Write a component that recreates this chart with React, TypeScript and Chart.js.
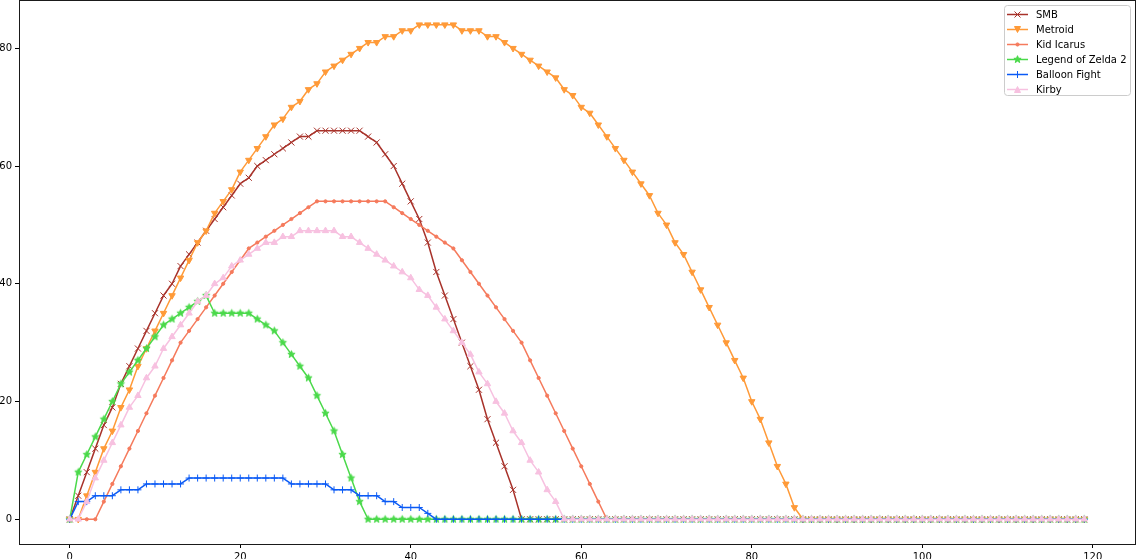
import React, { useEffect, useRef } from 'react';
import { Chart, registerables } from 'chart.js';

Chart.register(...registerables);

// ---------- data ----------
const X_VALUES: number[] = Array.from({ length: 120 }, (_, i) => i);

const SERIES_NAMES = ['SMB', 'Metroid', 'Kid Icarus', 'Legend of Zelda 2', 'Balloon Fight', 'Kirby'];

const SMB = [
  0, 4, 8, 12, 16, 19, 23, 26, 29, 32,
  35, 38, 40, 43, 45, 47, 49, 51, 53, 55,
  57, 58, 60, 61, 62, 63, 64, 65, 65, 66,
  66, 66, 66, 66, 66, 65, 64, 62, 60, 57,
  54, 51, 47, 42, 38, 34, 30, 26, 22, 17,
  13, 9, 5, 0, 0, 0, 0, 0, 0, 0,
  0, 0, 0, 0, 0, 0, 0, 0, 0, 0,
  0, 0, 0, 0, 0, 0, 0, 0, 0, 0,
  0, 0, 0, 0, 0, 0, 0, 0, 0, 0,
  0, 0, 0, 0, 0, 0, 0, 0, 0, 0,
  0, 0, 0, 0, 0, 0, 0, 0, 0, 0,
  0, 0, 0, 0, 0, 0, 0, 0, 0, 0,
];

const METROID = [
  0, 0, 4, 8, 12, 15, 19, 22, 26, 29,
  32, 35, 38, 41, 44, 47, 49, 52, 54, 56,
  59, 61, 63, 65, 67, 68, 70, 71, 73, 74,
  76, 77, 78, 79, 80, 81, 81, 82, 82, 83,
  83, 84, 84, 84, 84, 84, 83, 83, 83, 82,
  82, 81, 80, 79, 78, 77, 76, 75, 73, 72,
  70, 69, 67, 65, 63, 61, 59, 57, 55, 52,
  50, 47, 45, 42, 39, 36, 33, 30, 27, 24,
  20, 17, 13, 9, 6, 2, 0, 0, 0, 0,
  0, 0, 0, 0, 0, 0, 0, 0, 0, 0,
  0, 0, 0, 0, 0, 0, 0, 0, 0, 0,
  0, 0, 0, 0, 0, 0, 0, 0, 0, 0,
];

const KID_ICARUS = [
  0, 0, 0, 0, 3, 6, 9, 12, 15, 18,
  21, 24, 27, 30, 32, 34, 36, 38, 40, 42,
  44, 46, 47, 48, 49, 50, 51, 52, 53, 54,
  54, 54, 54, 54, 54, 54, 54, 54, 53, 52,
  51, 50, 49, 48, 47, 46, 44, 42, 40, 38,
  36, 34, 32, 30, 27, 24, 21, 18, 15, 12,
  9, 6, 3, 0, 0, 0, 0, 0, 0, 0,
  0, 0, 0, 0, 0, 0, 0, 0, 0, 0,
  0, 0, 0, 0, 0, 0, 0, 0, 0, 0,
  0, 0, 0, 0, 0, 0, 0, 0, 0, 0,
  0, 0, 0, 0, 0, 0, 0, 0, 0, 0,
  0, 0, 0, 0, 0, 0, 0, 0, 0, 0,
];

const ZELDA2 = [
  0, 8, 11, 14, 17, 20, 23, 25, 27, 29,
  31, 33, 34, 35, 36, 37, 38, 35, 35, 35,
  35, 35, 34, 33, 32, 30, 28, 26, 24, 21,
  18, 15, 11, 7, 3, 0, 0, 0, 0, 0,
  0, 0, 0, 0, 0, 0, 0, 0, 0, 0,
  0, 0, 0, 0, 0, 0, 0, 0, 0, 0,
  0, 0, 0, 0, 0, 0, 0, 0, 0, 0,
  0, 0, 0, 0, 0, 0, 0, 0, 0, 0,
  0, 0, 0, 0, 0, 0, 0, 0, 0, 0,
  0, 0, 0, 0, 0, 0, 0, 0, 0, 0,
  0, 0, 0, 0, 0, 0, 0, 0, 0, 0,
  0, 0, 0, 0, 0, 0, 0, 0, 0, 0,
];

const BALLOON_FIGHT = [
  0, 3, 3, 4, 4, 4, 5, 5, 5, 6,
  6, 6, 6, 6, 7, 7, 7, 7, 7, 7,
  7, 7, 7, 7, 7, 7, 6, 6, 6, 6,
  6, 5, 5, 5, 4, 4, 4, 3, 3, 2,
  2, 2, 1, 0, 0, 0, 0, 0, 0, 0,
  0, 0, 0, 0, 0, 0, 0, 0, 0, 0,
  0, 0, 0, 0, 0, 0, 0, 0, 0, 0,
  0, 0, 0, 0, 0, 0, 0, 0, 0, 0,
  0, 0, 0, 0, 0, 0, 0, 0, 0, 0,
  0, 0, 0, 0, 0, 0, 0, 0, 0, 0,
  0, 0, 0, 0, 0, 0, 0, 0, 0, 0,
  0, 0, 0, 0, 0, 0, 0, 0, 0, 0,
];

const KIRBY = [
  0, 0, 3, 7, 10, 13, 16, 19, 21, 24,
  26, 29, 31, 33, 35, 37, 38, 40, 41, 43,
  44, 45, 46, 47, 47, 48, 48, 49, 49, 49,
  49, 49, 48, 48, 47, 46, 45, 44, 43, 42,
  41, 39, 38, 36, 34, 32, 30, 28, 25, 23,
  20, 18, 15, 13, 10, 8, 5, 3, 0, 0,
  0, 0, 0, 0, 0, 0, 0, 0, 0, 0,
  0, 0, 0, 0, 0, 0, 0, 0, 0, 0,
  0, 0, 0, 0, 0, 0, 0, 0, 0, 0,
  0, 0, 0, 0, 0, 0, 0, 0, 0, 0,
  0, 0, 0, 0, 0, 0, 0, 0, 0, 0,
  0, 0, 0, 0, 0, 0, 0, 0, 0, 0,
];

const X_TICKS = [0, 20, 40, 60, 80, 100, 120];
const Y_TICKS = [0, 20, 40, 60, 80];

// ---------- styles ----------
const COLORS = ['#a8322a', '#ff9a38', '#f57a5c', '#4ad94a', '#0a5af5', '#f7c1e0'];
const MARKERS = ['x', 'v', '.', '*', '+', '^'];
const FONT = 'DejaVu Sans';

function starPath(ctx: CanvasRenderingContext2D, cx: number, cy: number, R: number) {
  const r = R * 0.42;
  ctx.beginPath();
  for (let k = 0; k < 10; k++) {
    const a = -Math.PI / 2 + (k * Math.PI) / 5;
    const rr = k % 2 === 0 ? R : r;
    const px = cx + rr * Math.cos(a);
    const py = cy + rr * Math.sin(a);
    if (k === 0) ctx.moveTo(px, py);
    else ctx.lineTo(px, py);
  }
  ctx.closePath();
}

function makeStar(color: string): HTMLCanvasElement {
  const c = document.createElement('canvas');
  c.width = 11;
  c.height = 11;
  const ctx = c.getContext('2d')!;
  starPath(ctx, 5.5, 5.5, 3.8);
  ctx.fillStyle = color;
  ctx.strokeStyle = color;
  ctx.lineWidth = 1;
  ctx.fill();
  ctx.stroke();
  return c;
}

function drawMarker(ctx: CanvasRenderingContext2D, kind: string, x: number, y: number, color: string) {
  ctx.save();
  ctx.strokeStyle = color;
  ctx.fillStyle = color;
  ctx.lineWidth = 1;
  ctx.beginPath();
  if (kind === 'x') {
    ctx.moveTo(x - 3, y - 3); ctx.lineTo(x + 3, y + 3);
    ctx.moveTo(x - 3, y + 3); ctx.lineTo(x + 3, y - 3);
    ctx.stroke();
  } else if (kind === '+') {
    ctx.moveTo(x - 3.5, y); ctx.lineTo(x + 3.5, y);
    ctx.moveTo(x, y - 3.5); ctx.lineTo(x, y + 3.5);
    ctx.stroke();
  } else if (kind === 'v') {
    ctx.moveTo(x - 3, y - 3); ctx.lineTo(x + 3, y - 3); ctx.lineTo(x, y + 3); ctx.closePath();
    ctx.fill(); ctx.stroke();
  } else if (kind === '^') {
    ctx.moveTo(x - 3, y + 3); ctx.lineTo(x + 3, y + 3); ctx.lineTo(x, y - 3); ctx.closePath();
    ctx.fill(); ctx.stroke();
  } else if (kind === '.') {
    ctx.arc(x, y, 1.6, 0, Math.PI * 2);
    ctx.fill(); ctx.stroke();
  } else if (kind === '*') {
    starPath(ctx, x, y, 3.8);
    ctx.fill(); ctx.stroke();
  }
  ctx.restore();
}

const framePlugin = {
  id: 'mplFrame',
  afterDatasetsDraw(chart: any) {
    const { ctx, chartArea } = chart;
    ctx.save();
    ctx.strokeStyle = '#1a1a1a';
    ctx.lineWidth = 1;
    ctx.strokeRect(chartArea.left + 0.5, chartArea.top + 0.5, chartArea.right - chartArea.left, chartArea.bottom - chartArea.top);
    ctx.restore();
  },
};

const legendPlugin = {
  id: 'mplLegend',
  afterDraw(chart: any) {
    const ctx: CanvasRenderingContext2D = chart.ctx;
    ctx.save();
    const bx = 1004.5, by = 5.5, bw = 126, bh = 90;
    ctx.beginPath();
    const r = 3;
    ctx.moveTo(bx + r, by);
    ctx.lineTo(bx + bw - r, by);
    ctx.arcTo(bx + bw, by, bx + bw, by + r, r);
    ctx.lineTo(bx + bw, by + bh - r);
    ctx.arcTo(bx + bw, by + bh, bx + bw - r, by + bh, r);
    ctx.lineTo(bx + r, by + bh);
    ctx.arcTo(bx, by + bh, bx, by + bh - r, r);
    ctx.lineTo(bx, by + r);
    ctx.arcTo(bx, by, bx + r, by, r);
    ctx.closePath();
    ctx.fillStyle = 'rgba(255,255,255,0.8)';
    ctx.fill();
    ctx.strokeStyle = '#cccccc';
    ctx.lineWidth = 1;
    ctx.stroke();

    ctx.font = `10px "${FONT}"`;
    ctx.textBaseline = 'middle';
    ctx.textAlign = 'left';
    SERIES_NAMES.forEach((name, i) => {
      const y = 14.5 + i * 15;
      ctx.strokeStyle = COLORS[i];
      ctx.lineWidth = 1.5;
      ctx.beginPath();
      ctx.moveTo(1007, y);
      ctx.lineTo(1028, y);
      ctx.stroke();
      drawMarker(ctx, MARKERS[i], 1017.5, y, COLORS[i]);
      ctx.fillStyle = '#000';
      ctx.fillText(name, 1036, y + 0.5);
    });
    ctx.restore();
  },
};

export default function App() {
  const canvasRef = useRef<HTMLCanvasElement | null>(null);

  useEffect(() => {
    if (!canvasRef.current) return;
    const seriesValues = [SMB, METROID, KID_ICARUS, ZELDA2, BALLOON_FIGHT, KIRBY];
    const pointStyles: any[] = ['crossRot', 'triangle', 'circle', makeStar(COLORS[3]), 'cross', 'triangle'];
    const pointRadii = [4.3, 3.7, 1.6, 4, 3.5, 3.7];
    const rotations = [0, 180, 0, 0, 0, 0];

    const datasets = seriesValues.map((vals, i) => ({
      label: SERIES_NAMES[i],
      data: vals.map((v, j) => ({ x: X_VALUES[j], y: v })),
      borderColor: COLORS[i],
      backgroundColor: COLORS[i],
      borderWidth: 1.5,
      pointStyle: pointStyles[i],
      pointRadius: pointRadii[i],
      pointHoverRadius: pointRadii[i],
      pointRotation: rotations[i],
      pointBorderWidth: 1,
      pointBorderColor: COLORS[i],
      pointBackgroundColor: COLORS[i],
      tension: 0,
      fill: false,
      order: 6 - i,
      borderJoinStyle: 'round' as const,
    }));

    const tickFont = { family: FONT, size: 10 };

    const chart = new Chart(canvasRef.current, {
      type: 'line',
      data: { datasets },
      options: {
        animation: false,
        responsive: false,
        devicePixelRatio: 1,
        events: [],
        layout: { autoPadding: false, padding: { top: 0, right: 1, bottom: 0, left: 0 } },
        plugins: {
          legend: { display: false },
          tooltip: { enabled: false },
        },
        scales: {
          x: {
            type: 'linear',
            min: -5.95,
            max: 124.95,
            afterBuildTicks: (s: any) => {
              s.ticks = X_TICKS.map((v) => ({ value: v }));
            },
            afterFit: (s: any) => {
              s.height = 15;
              s.paddingLeft = 0;
              s.paddingRight = 0;
            },
            grid: {
              display: true,
              drawOnChartArea: false,
              drawTicks: true,
              tickLength: 4,
              color: '#000',
              lineWidth: 1,
            },
            border: { display: false },
            ticks: {
              padding: 3,
              color: '#000',
              font: tickFont,
              maxRotation: 0,
              autoSkip: false,
              callback: (v: any) => String(v),
            },
          },
          y: {
            type: 'linear',
            min: -4.2,
            max: 88.2,
            afterBuildTicks: (s: any) => {
              s.ticks = Y_TICKS.map((v) => ({ value: v }));
            },
            afterFit: (s: any) => {
              s.width = 19;
              s.paddingTop = 0;
              s.paddingBottom = 0;
            },
            grid: {
              display: true,
              drawOnChartArea: false,
              drawTicks: true,
              tickLength: 4,
              color: '#000',
              lineWidth: 1,
            },
            border: { display: false },
            ticks: {
              padding: 3,
              color: '#000',
              font: tickFont,
              autoSkip: false,
              callback: (v: any) => String(v),
            },
          },
        },
      },
      plugins: [framePlugin, legendPlugin],
    });

    return () => chart.destroy();
  }, []);

  return (
    <div style={{ position: 'absolute', left: 0, top: 0, width: 1136, height: 559, background: '#fff' }}>
      <canvas ref={canvasRef} width={1136} height={559} style={{ display: 'block', width: 1136, height: 559 }} />
    </div>
  );
}
